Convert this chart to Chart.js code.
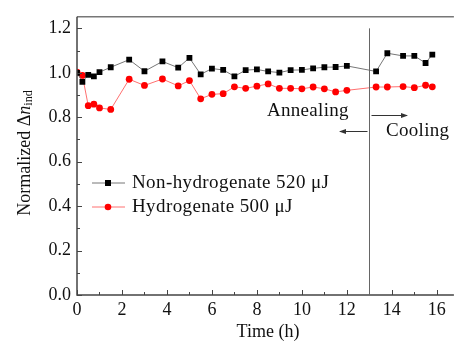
<!DOCTYPE html>
<html>
<head>
<meta charset="utf-8">
<script src="https://cdn.jsdelivr.net/npm/chart.js@4"></script>
<style>
  html, body { margin: 0; padding: 0; background: #fff; }
  #wrap { width: 458px; height: 343px; }
</style>
</head>
<body>
<div id="wrap"><canvas id="myChart"></canvas></div>
<script>
// values
const timeH = [0, 0.24, 0.5, 0.75, 1.0, 1.5, 2.32, 3.0, 3.8, 4.5, 5.0, 5.5, 6.0, 6.5, 7.0, 7.5, 8.0, 8.5, 9.0, 9.5, 10.0, 10.5, 11.0, 11.5, 12.0, 13.3, 13.8, 14.5, 15.0, 15.5, 15.8];
const nonHydrogenate = [1.00, 0.959, 0.991, 0.984, 1.003, 1.025, 1.059, 1.007, 1.051, 1.023, 1.067, 0.993, 1.019, 1.013, 0.984, 1.012, 1.015, 1.006, 1.001, 1.012, 1.013, 1.020, 1.025, 1.026, 1.031, 1.006, 1.088, 1.076, 1.076, 1.044, 1.082];
const hydrogenate = [1.003, 0.988, 0.852, 0.859, 0.842, 0.835, 0.971, 0.943, 0.972, 0.941, 0.965, 0.883, 0.903, 0.906, 0.937, 0.930, 0.940, 0.950, 0.930, 0.930, 0.928, 0.936, 0.928, 0.914, 0.921, 0.936, 0.936, 0.938, 0.933, 0.944, 0.937];
const xTicks = [0, 2, 4, 6, 8, 10, 12, 14, 16];
const yTicks = [0.0, 0.2, 0.4, 0.6, 0.8, 1.0, 1.2];
const seriesNames = ['Non-hydrogenate 520 \u03bcJ', 'Hydrogenate 500 \u03bcJ'];
const coolingStart = 13;

const serif = '"Liberation Serif", "Times New Roman", serif';

function toPoints(ys) {
  return timeH.map((t, i) => ({ x: t, y: ys[i] }));
}

// axes with inward ticks, frame, vertical divider, legend and labels
const decorations = {
  id: 'decorations',
  afterDraw(chart) {
    const ctx = chart.ctx;
    const xs = chart.scales.x, ys = chart.scales.y;
    const area = chart.chartArea;
    ctx.save();

    // top border
    ctx.strokeStyle = '#777';
    ctx.lineWidth = 1.5;
    ctx.beginPath();
    ctx.moveTo(area.left, area.top);
    ctx.lineTo(area.right, area.top);
    ctx.stroke();

    // axis lines
    ctx.strokeStyle = '#444';
    ctx.lineWidth = 1.5;
    ctx.beginPath();
    ctx.moveTo(area.left, area.top);
    ctx.lineTo(area.left, area.bottom);
    ctx.lineTo(area.right, area.bottom);
    ctx.stroke();

    // inward ticks
    ctx.lineWidth = 1;
    ctx.beginPath();
    for (let v = 0; v <= 16; v += 1) {
      const px = Math.round(xs.getPixelForValue(v)) + 0.5;
      const len = v % 2 === 0 ? 5 : 3;
      ctx.moveTo(px, area.bottom);
      ctx.lineTo(px, area.bottom - len);
    }
    for (let k = 0; k <= 12; k++) {
      const py = Math.round(ys.getPixelForValue(k / 10)) + 0.5;
      const len = k % 2 === 0 ? 5 : 3;
      ctx.moveTo(area.left, py);
      ctx.lineTo(area.left + len, py);
    }
    ctx.stroke();

    // divider between annealing and cooling
    const vx = Math.round(xs.getPixelForValue(coolingStart)) + 0.5;
    ctx.strokeStyle = '#666';
    ctx.lineWidth = 1;
    ctx.beginPath();
    ctx.moveTo(vx, ys.getPixelForValue(1.2));
    ctx.lineTo(vx, area.bottom);
    ctx.stroke();

    // arrows
    ctx.strokeStyle = '#333';
    ctx.fillStyle = '#333';
    function arrow(x1, y, x2) {
      ctx.beginPath();
      ctx.moveTo(x1, y);
      ctx.lineTo(x2, y);
      ctx.stroke();
      const d = x2 > x1 ? 1 : -1;
      ctx.beginPath();
      ctx.moveTo(x2 + d * 1, y);
      ctx.lineTo(x2 - d * 6, y - 2.5);
      ctx.lineTo(x2 - d * 6, y + 2.5);
      ctx.closePath();
      ctx.fill();
    }
    arrow(vx + 2, 115.5, 407);
    arrow(vx - 2, 131.5, 340);

    // annotation text
    ctx.fillStyle = '#111';
    ctx.font = '19px ' + serif;
    ctx.letterSpacing = '0.3px';
    ctx.textBaseline = 'alphabetic';
    ctx.textAlign = 'left';
    ctx.fillText('Annealing', 267, 116);
    ctx.fillText('Cooling', 386, 136);

    // legend
    chart.data.datasets.forEach((ds, i) => {
      const ly = 183 + i * 24;
      ctx.strokeStyle = ds.borderColor;
      ctx.lineWidth = 1;
      ctx.beginPath();
      ctx.moveTo(92, ly);
      ctx.lineTo(125, ly);
      ctx.stroke();
      ctx.fillStyle = ds.pointBackgroundColor;
      if (ds.pointStyle === 'rect') {
        ctx.fillRect(105, ly - 3, 6, 6);
      } else {
        ctx.beginPath();
        ctx.arc(108, ly, 3.3, 0, Math.PI * 2);
        ctx.fill();
      }
      ctx.fillStyle = '#111';
      ctx.font = '19px ' + serif;
      ctx.letterSpacing = '0.4px';
      ctx.textBaseline = 'middle';
      ctx.fillText(seriesNames[i], 132, ly);
    });
    ctx.letterSpacing = '0px';

    // x axis title
    ctx.textAlign = 'center';
    ctx.textBaseline = 'middle';
    ctx.font = '18px ' + serif;
    ctx.fillText('Time (h)', 268, 332);

    // y axis title with italic n and subscript
    ctx.translate(25, 153);
    ctx.rotate(-Math.PI / 2);
    const parts = [
      { t: 'Normalized \u0394', f: '18px ' + serif, dy: 0 },
      { t: 'n', f: 'italic 18px ' + serif, dy: 0 },
      { t: 'ind', f: '12px ' + serif, dy: 4 }
    ];
    let total = 0;
    parts.forEach(p => { ctx.font = p.f; p.w = ctx.measureText(p.t).width; total += p.w; });
    let cx = -total / 2;
    ctx.textAlign = 'left';
    ctx.textBaseline = 'middle';
    parts.forEach(p => {
      ctx.font = p.f;
      ctx.fillText(p.t, cx, p.dy);
      cx += p.w;
    });
    ctx.restore();
  }
};

const ctx = document.getElementById('myChart').getContext('2d');
new Chart(ctx, {
  type: 'line',
  data: {
    datasets: [
      {
        label: seriesNames[0],
        data: toPoints(nonHydrogenate),
        borderColor: '#777',
        borderWidth: 1,
        pointStyle: 'rect',
        pointRadius: 4.1,
        pointBackgroundColor: '#000',
        pointBorderWidth: 0,
        tension: 0
      },
      {
        label: seriesNames[1],
        data: toPoints(hydrogenate),
        borderColor: '#ff7070',
        borderWidth: 1,
        pointStyle: 'circle',
        pointRadius: 3.4,
        pointBackgroundColor: '#ff0000',
        pointBorderWidth: 0,
        tension: 0
      }
    ]
  },
  options: {
    responsive: true,
    maintainAspectRatio: false,
    animation: false,
    events: [],
    layout: { padding: { top: 10, right: 0, left: 0, bottom: 0 } },
    plugins: {
      legend: { display: false },
      tooltip: { enabled: false }
    },
    scales: {
      x: {
        type: 'linear',
        position: 'bottom',
        min: 0,
        max: 16.76,
        afterBuildTicks: s => { s.ticks = xTicks.map(v => ({ value: v })); },
        afterFit: s => { s.height = 48; },
        grid: { display: false, drawTicks: false },
        border: { display: false },
        ticks: {
          padding: 4,
          color: '#111',
          maxRotation: 0,
          font: { family: serif, size: 18 },
          callback: v => String(v)
        }
      },
      y: {
        min: 0,
        max: 1.252,
        afterBuildTicks: s => { s.ticks = yTicks.map(v => ({ value: v })); },
        afterFit: s => { s.width = 77; },
        grid: { display: false, drawTicks: false },
        border: { display: false },
        ticks: {
          padding: 6,
          color: '#111',
          font: { family: serif, size: 18 },
          callback: v => v.toFixed(1)
        }
      }
    }
  },
  plugins: [decorations]
});
</script>
</body>
</html>
